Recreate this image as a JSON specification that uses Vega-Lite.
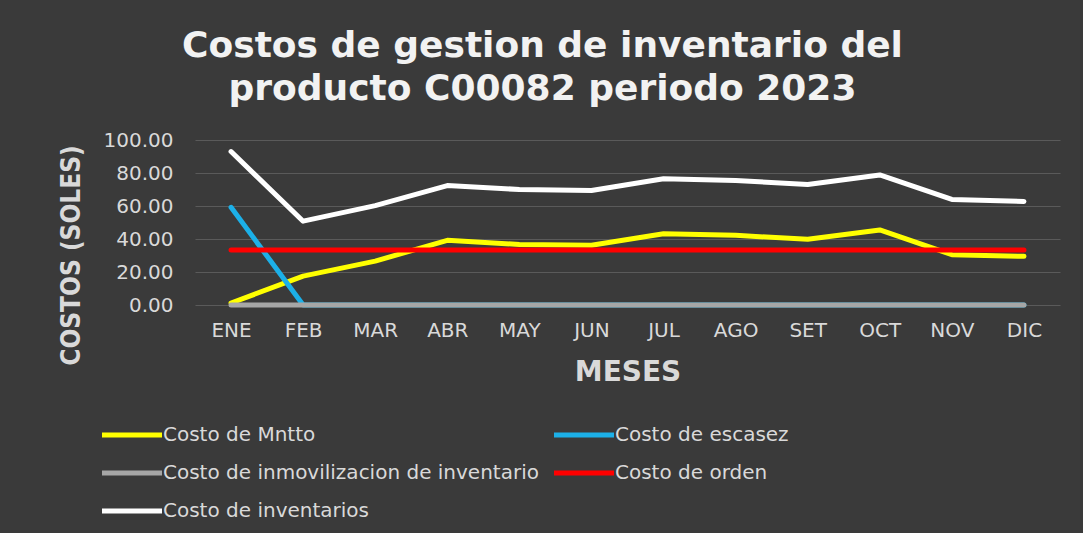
{
  "$schema": "https://vega.github.io/schema/vega-lite/v6.json",
  "width": 865,
  "height": 165,
  "autosize": {"type": "none"},
  "padding": {"left": 195, "top": 140, "right": 23, "bottom": 228},
  "background": "#3a3a3a",
  "config": {"view": {"stroke": null}, "font": "DejaVu Sans"},
  "title": {
    "text": ["Costos de gestion de inventario del", "producto C00082 periodo 2023"],
    "font": "DejaVu Sans",
    "fontSize": 36,
    "fontWeight": "bold",
    "color": "#f2f2f2",
    "anchor": "middle",
    "dx": -85,
    "lineHeight": 43,
    "offset": 22
  },
  "data": {
    "values": [
      {"mes": "ENE", "serie": "Costo de Mntto", "costo": 1.2},
      {"mes": "FEB", "serie": "Costo de Mntto", "costo": 17.5},
      {"mes": "MAR", "serie": "Costo de Mntto", "costo": 26.6},
      {"mes": "ABR", "serie": "Costo de Mntto", "costo": 39.2},
      {"mes": "MAY", "serie": "Costo de Mntto", "costo": 36.7},
      {"mes": "JUN", "serie": "Costo de Mntto", "costo": 36.2},
      {"mes": "JUL", "serie": "Costo de Mntto", "costo": 43.2},
      {"mes": "AGO", "serie": "Costo de Mntto", "costo": 42.2},
      {"mes": "SET", "serie": "Costo de Mntto", "costo": 39.8},
      {"mes": "OCT", "serie": "Costo de Mntto", "costo": 45.5},
      {"mes": "NOV", "serie": "Costo de Mntto", "costo": 30.5},
      {"mes": "DIC", "serie": "Costo de Mntto", "costo": 29.5},
      {"mes": "ENE", "serie": "Costo de escasez", "costo": 59.2},
      {"mes": "FEB", "serie": "Costo de escasez", "costo": 0},
      {"mes": "MAR", "serie": "Costo de escasez", "costo": 0},
      {"mes": "ABR", "serie": "Costo de escasez", "costo": 0},
      {"mes": "MAY", "serie": "Costo de escasez", "costo": 0},
      {"mes": "JUN", "serie": "Costo de escasez", "costo": 0},
      {"mes": "JUL", "serie": "Costo de escasez", "costo": 0},
      {"mes": "AGO", "serie": "Costo de escasez", "costo": 0},
      {"mes": "SET", "serie": "Costo de escasez", "costo": 0},
      {"mes": "OCT", "serie": "Costo de escasez", "costo": 0},
      {"mes": "NOV", "serie": "Costo de escasez", "costo": 0},
      {"mes": "DIC", "serie": "Costo de escasez", "costo": 0},
      {"mes": "ENE", "serie": "Costo de inmovilizacion de inventario", "costo": 0},
      {"mes": "FEB", "serie": "Costo de inmovilizacion de inventario", "costo": 0},
      {"mes": "MAR", "serie": "Costo de inmovilizacion de inventario", "costo": 0},
      {"mes": "ABR", "serie": "Costo de inmovilizacion de inventario", "costo": 0},
      {"mes": "MAY", "serie": "Costo de inmovilizacion de inventario", "costo": 0},
      {"mes": "JUN", "serie": "Costo de inmovilizacion de inventario", "costo": 0},
      {"mes": "JUL", "serie": "Costo de inmovilizacion de inventario", "costo": 0},
      {"mes": "AGO", "serie": "Costo de inmovilizacion de inventario", "costo": 0},
      {"mes": "SET", "serie": "Costo de inmovilizacion de inventario", "costo": 0},
      {"mes": "OCT", "serie": "Costo de inmovilizacion de inventario", "costo": 0},
      {"mes": "NOV", "serie": "Costo de inmovilizacion de inventario", "costo": 0},
      {"mes": "DIC", "serie": "Costo de inmovilizacion de inventario", "costo": 0},
      {"mes": "ENE", "serie": "Costo de orden", "costo": 33.3},
      {"mes": "FEB", "serie": "Costo de orden", "costo": 33.3},
      {"mes": "MAR", "serie": "Costo de orden", "costo": 33.3},
      {"mes": "ABR", "serie": "Costo de orden", "costo": 33.3},
      {"mes": "MAY", "serie": "Costo de orden", "costo": 33.3},
      {"mes": "JUN", "serie": "Costo de orden", "costo": 33.3},
      {"mes": "JUL", "serie": "Costo de orden", "costo": 33.3},
      {"mes": "AGO", "serie": "Costo de orden", "costo": 33.3},
      {"mes": "SET", "serie": "Costo de orden", "costo": 33.3},
      {"mes": "OCT", "serie": "Costo de orden", "costo": 33.3},
      {"mes": "NOV", "serie": "Costo de orden", "costo": 33.3},
      {"mes": "DIC", "serie": "Costo de orden", "costo": 33.3},
      {"mes": "ENE", "serie": "Costo de inventarios", "costo": 93.0},
      {"mes": "FEB", "serie": "Costo de inventarios", "costo": 50.8},
      {"mes": "MAR", "serie": "Costo de inventarios", "costo": 60.2},
      {"mes": "ABR", "serie": "Costo de inventarios", "costo": 72.4},
      {"mes": "MAY", "serie": "Costo de inventarios", "costo": 70.0},
      {"mes": "JUN", "serie": "Costo de inventarios", "costo": 69.4},
      {"mes": "JUL", "serie": "Costo de inventarios", "costo": 76.5},
      {"mes": "AGO", "serie": "Costo de inventarios", "costo": 75.5},
      {"mes": "SET", "serie": "Costo de inventarios", "costo": 73.0},
      {"mes": "OCT", "serie": "Costo de inventarios", "costo": 78.8},
      {"mes": "NOV", "serie": "Costo de inventarios", "costo": 64.0},
      {"mes": "DIC", "serie": "Costo de inventarios", "costo": 62.8}
    ]
  },
  "mark": {"type": "line", "strokeWidth": 5, "strokeCap": "round", "strokeJoin": "round"},
  "encoding": {
    "x": {
      "field": "mes",
      "type": "ordinal",
      "sort": ["ENE", "FEB", "MAR", "ABR", "MAY", "JUN", "JUL", "AGO", "SET", "OCT", "NOV", "DIC"],
      "scale": {"type": "point", "padding": 0.5},
      "axis": {
        "title": "MESES",
        "labelAngle": 0,
        "grid": false,
        "domain": false,
        "ticks": false,
        "labelColor": "#d9d9d9",
        "labelFontSize": 20,
        "labelPadding": 15,
        "titleFont": "DejaVu Sans",
        "titleFontSize": 28,
        "titleFontWeight": "bold",
        "titleColor": "#d9d9d9",
        "titleY": 67,
        "titleBaseline": "middle"
      }
    },
    "y": {
      "field": "costo",
      "type": "quantitative",
      "scale": {"domain": [0, 100]},
      "axis": {
        "title": "COSTOS (SOLES)",
        "format": ".2f",
        "values": [0, 20, 40, 60, 80, 100],
        "domain": false,
        "ticks": false,
        "gridColor": "#5a5a5a",
        "gridWidth": 1,
        "labelColor": "#d9d9d9",
        "labelFontSize": 20,
        "labelPadding": 22,
        "titleFont": "DejaVu Sans Condensed, DejaVu Sans",
        "titleFontSize": 26,
        "titleFontWeight": "bold",
        "titleColor": "#d9d9d9",
        "titleX": -124,
        "titleY": 115,
        "titleBaseline": "middle",
        "titleAlign": "center",
        "titleAngle": 270
      }
    },
    "color": {
      "field": "serie",
      "type": "nominal",
      "scale": {
        "domain": ["Costo de Mntto", "Costo de escasez", "Costo de inmovilizacion de inventario", "Costo de orden", "Costo de inventarios"],
        "range": ["#ffff00", "#1cb0e8", "#a6a6a6", "#ff0000", "#ffffff"]
      },
      "legend": {
        "title": null,
        "orient": "none",
        "direction": "horizontal",
        "legendX": -95,
        "legendY": 285,
        "columns": 2,
        "symbolType": "M-6,0H6",
        "symbolSize": 100,
        "symbolStrokeWidth": 5,
        "symbolOffset": 22,
        "labelOffset": 21,
        "labelFontSize": 20,
        "labelColor": "#d9d9d9",
        "labelLimit": 600,
        "rowPadding": 18,
        "columnPadding": 5
      }
    }
  }
}
